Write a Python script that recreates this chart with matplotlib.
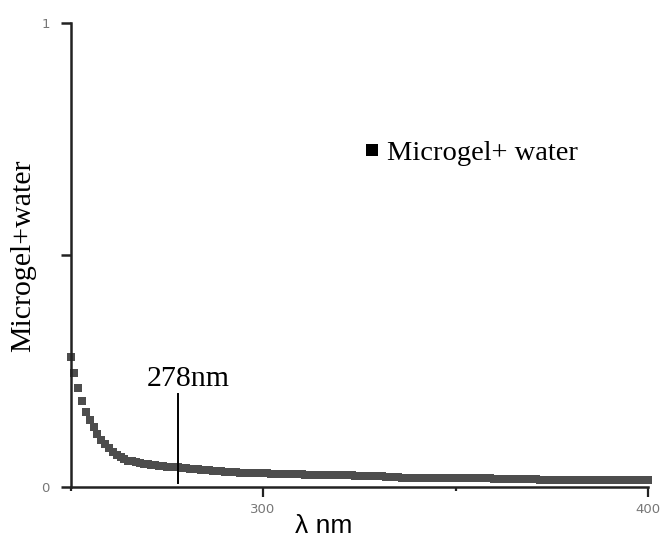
import matplotlib.pyplot as plt
from matplotlib.lines import Line2D

# absorbance of the microgel dispersion, one reading per nm from 250 to 400 nm
wavelength = list(range(250, 401))
absorbance = [
    0.279, 0.245, 0.213, 0.184, 0.160, 0.143, 0.128, 0.114, 0.101, 0.091,
    0.082, 0.074, 0.068, 0.063, 0.059, 0.056, 0.054, 0.052, 0.050, 0.049,
    0.048, 0.047, 0.046, 0.045, 0.044, 0.043, 0.042, 0.042, 0.041, 0.040,
    0.039, 0.038, 0.038, 0.037, 0.036, 0.035, 0.035, 0.034, 0.033, 0.033,
    0.032, 0.032, 0.031, 0.031, 0.030, 0.030, 0.030, 0.029, 0.029, 0.029,
    0.029, 0.029, 0.028, 0.028, 0.028, 0.028, 0.028, 0.027, 0.027, 0.026,
    0.026, 0.025, 0.025, 0.025, 0.025, 0.025, 0.024, 0.024, 0.024, 0.024,
    0.024, 0.024, 0.024, 0.024, 0.023, 0.023, 0.023, 0.023, 0.023, 0.022,
    0.022, 0.022, 0.021, 0.021, 0.021, 0.020, 0.019, 0.019, 0.019, 0.019,
    0.019, 0.019, 0.018, 0.018, 0.018, 0.018, 0.018, 0.018, 0.018, 0.018,
    0.018, 0.018, 0.018, 0.018, 0.018, 0.018, 0.018, 0.018, 0.018, 0.018,
    0.017, 0.017, 0.017, 0.017, 0.017, 0.017, 0.017, 0.017, 0.017, 0.016,
    0.016, 0.016, 0.015, 0.015, 0.015, 0.015, 0.015, 0.015, 0.015, 0.015,
    0.015, 0.015, 0.015, 0.015, 0.015, 0.015, 0.015, 0.015, 0.015, 0.015,
    0.015, 0.015, 0.015, 0.015, 0.015, 0.015, 0.015, 0.014, 0.014, 0.014,
    0.014,
]

peak_nm = 278
peak_label = "278nm"
series_label = "Microgel+ water"

W, H = 662, 540
fig = plt.figure(figsize=(W / 100, H / 100), dpi=100)
ax = fig.add_axes([70.5 / W, 1 - 486.5 / H, (648 - 70.5) / W, (486.5 - 22.7) / H])

ax.plot(wavelength, absorbance, linestyle="none", marker="s", markersize=6.4,
        markeredgewidth=0, color="#4d4d4d", clip_on=False)

# marker line for the band position
ax.plot([peak_nm, peak_nm], [0.0075, 0.199], color="black", lw=1.4)
ax.text(280.5, 0.217, peak_label, ha="center", va="baseline",
        family="Liberation Serif", fontsize=21.5)

ax.set_xlim(250, 400)
ax.set_ylim(0, 1)
for side in ("top", "right"):
    ax.spines[side].set_visible(False)
for side in ("left", "bottom"):
    ax.spines[side].set_linewidth(1.8)
    ax.spines[side].set_color("#222222")

ax.set_xticks([250, 300, 350, 400])
ax.set_xticklabels(["", "300", "", "400"])
ax.set_yticks([0, 0.5, 1])
ax.set_yticklabels(["0", "", "1"])
ax.tick_params(axis="x", direction="out", length=7, width=1.6, color="#222222",
               labelsize=9.5, labelcolor="#777777", pad=5)
ax.tick_params(axis="y", direction="out", length=7, width=1.8, color="#222222",
               labelsize=9.5, labelcolor="#777777", pad=8)
for t in ax.xaxis.get_major_ticks()[::2]:
    t.tick1line.set_markersize(3)

fig.text(23 / W, 1 - 256 / H, "Microgel+water", rotation=90, ha="center", va="center",
         family="Liberation Serif", fontsize=21.5)
fig.text(324 / W, 2 / H, "λ nm", ha="center", va="bottom",
         family="Liberation Sans", fontsize=19)

handle = Line2D([], [], linestyle="none", marker="s", markersize=8,
                markeredgewidth=0, color="black")
ax.legend([handle], [series_label], loc="center left",
          bbox_to_anchor=(366 / W, 1 - 153 / H), bbox_transform=fig.transFigure,
          frameon=False, borderpad=0, borderaxespad=0, handlelength=0.4,
          handletextpad=0.35, prop={"family": "Liberation Serif", "size": 20.5})

fig.savefig("out.png", dpi=100)
